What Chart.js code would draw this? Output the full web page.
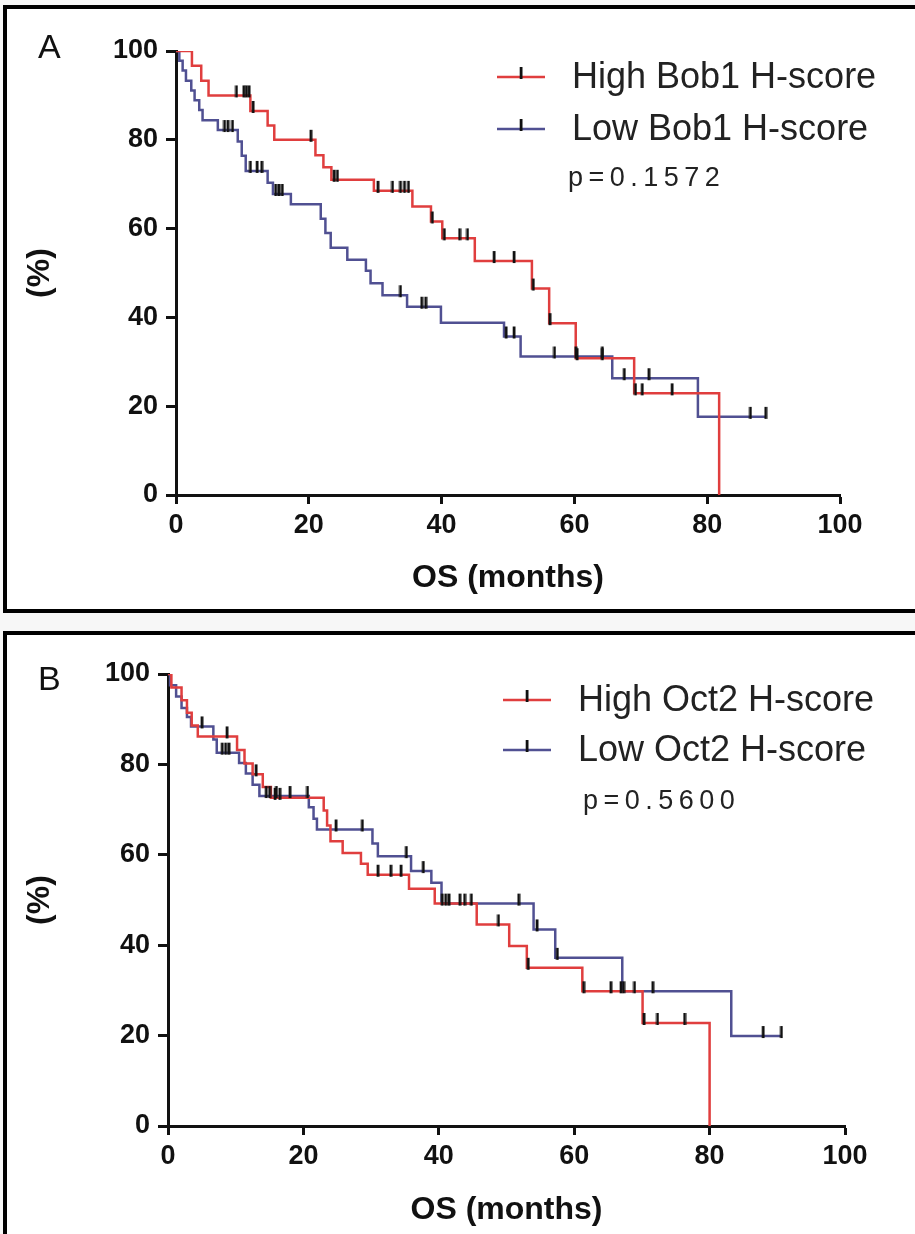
<!DOCTYPE html>
<html>
<head>
<meta charset="utf-8">
<title>Overall survival by Bob1 and Oct2 H-score</title>
<script src="https://cdn.jsdelivr.net/npm/chart.js@4/dist/chart.umd.min.js"></script>
<style>
  html, body { margin: 0; padding: 0; background: #f7f7f7; }
  #page { position: relative; width: 915px; height: 1234px; overflow: hidden; background: #f7f7f7; }
  .panel-bg { position: absolute; background: #fff; }
  .frame { position: absolute; border: 4.5px solid #000; box-sizing: border-box; pointer-events: none; }
  canvas { position: absolute; left: 0; }
</style>
</head>
<body>
<div id="page">
  <div class="panel-bg" style="left:3px;top:5px;width:960px;height:608px;"></div>
  <div class="panel-bg" style="left:3px;top:631px;width:960px;height:700px;"></div>
  <canvas id="panelA" width="915" height="612" style="top:0px"></canvas>
  <canvas id="panelB" width="915" height="614" style="top:620px"></canvas>
  <div class="frame" style="left:3px;top:5px;width:960px;height:608px;"></div>
  <div class="frame" style="left:3px;top:631px;width:960px;height:700px;"></div>
</div>
<script>
// ---- Panel A: Bob1 H-score (months, survival %) ----
const highBobTimes = [0, 2.4, 3.8, 4.9, 11.2, 13.8, 14.8, 21.0, 22.2, 23.4, 29.8, 35.6, 38.4, 40.1, 45.0, 53.6, 56.2, 60.2, 69.0, 81.8];
const highBobSurv  = [100, 96.7, 93.3, 90.0, 86.5, 83.2, 80.0, 76.5, 73.8, 71.0, 68.5, 65.0, 61.6, 57.8, 52.7, 46.5, 38.7, 30.8, 22.9, 0];
const highBobCensored = [9.1, 10.2, 10.6, 11.0, 11.6, 20.3, 23.8, 24.3, 30.4, 32.6, 33.8, 34.4, 35.0, 38.6, 40.4, 42.7, 43.9, 47.9, 50.9, 53.8, 56.3, 60.4, 64.2, 69.2, 70.2, 74.7];

const lowBobTimes = [0, 0.5, 1.0, 1.5, 2.3, 2.8, 3.5, 4.0, 6.3, 9.3, 9.9, 10.5, 13.8, 14.6, 17.3, 21.8, 22.5, 23.3, 25.8, 28.6, 29.3, 31.1, 34.8, 39.9, 49.4, 51.9, 65.7, 78.6, 88.8];
const lowBobSurv  = [100, 97.8, 95.6, 93.3, 91.1, 88.9, 86.7, 84.4, 82.2, 79.6, 76.4, 73.0, 70.3, 67.8, 65.5, 62.2, 59.0, 55.7, 53.0, 50.5, 47.7, 45.0, 42.4, 38.8, 35.7, 31.2, 26.3, 17.6, 17.6];
const lowBobCensored = [7.3, 7.8, 8.5, 11.2, 12.2, 12.9, 15.0, 15.5, 16.0, 33.8, 37.0, 37.6, 49.7, 50.9, 57.0, 60.2, 64.2, 67.5, 71.2, 86.5, 88.8];

// ---- Panel B: Oct2 H-score ----
const highOctTimes = [0, 0.5, 2.0, 2.8, 3.5, 4.4, 10.2, 11.3, 12.5, 14.0, 15.2, 23.0, 23.5, 24.0, 25.8, 28.5, 29.5, 35.6, 39.4, 45.6, 50.4, 53.0, 61.2, 70.1, 80.0];
const highOctSurv  = [100, 97.0, 94.2, 91.4, 88.6, 86.2, 83.2, 80.2, 77.8, 75.0, 72.6, 69.8, 66.5, 63.0, 60.4, 58.0, 55.6, 52.5, 49.2, 44.6, 39.8, 35.0, 29.8, 22.8, 0];
const highOctCensored = [8.7, 13.0, 15.8, 16.5, 31.0, 32.9, 34.4, 40.5, 43.1, 43.8, 44.8, 48.8, 53.2, 61.4, 65.4, 66.9, 70.3, 72.3, 76.3];

const lowOctTimes = [0, 0.3, 1.2, 2.0, 2.8, 3.4, 6.7, 7.2, 10.5, 11.5, 12.5, 13.5, 20.8, 21.5, 22.0, 30.2, 31.0, 35.9, 38.9, 40.4, 54.0, 57.2, 67.1, 83.2, 90.6];
const lowOctSurv  = [100, 97.5, 95.0, 92.5, 90.5, 88.4, 85.5, 82.6, 80.3, 78.0, 75.5, 73.0, 70.5, 68.0, 65.6, 62.5, 59.7, 56.4, 53.8, 49.2, 43.5, 37.2, 29.8, 19.9, 19.9];
const lowOctCensored = [5.0, 8.0, 8.5, 9.0, 14.5, 15.0, 16.0, 18.0, 20.6, 24.8, 28.7, 35.2, 37.7, 41.0, 41.5, 51.8, 54.5, 57.5, 67.3, 68.9, 71.6, 87.9, 90.6];

// ---- Axis ticks and labels ----
const xTickValues = [0, 20, 40, 60, 80, 100];
const yTickValues = [0, 20, 40, 60, 80, 100];
const xAxisTitle = 'OS (months)';
const yAxisTitle = '(%)';
const legendA = ['High Bob1 H-score', 'Low Bob1 H-score'];
const legendB = ['High Oct2 H-score', 'Low Oct2 H-score'];
const pValueA = 'p=0.1572';
const pValueB = 'p=0.5600';

const RED = 'rgb(224,62,62)';
const BLUE = 'rgb(80,80,146)';
const FONT = "'Liberation Sans', Arial, Helvetica, sans-serif";

// Small vertical bar used as the censoring mark (sits mostly above the line)
const censorMark = (() => {
  const c = document.createElement('canvas');
  c.width = 4; c.height = 22;
  const g = c.getContext('2d');
  g.fillStyle = '#111';
  g.fillRect(0.7, 1, 2.8, 12);
  return c;
})();

function stepPoints(times, surv) {
  return times.map((t, i) => ({ x: t, y: surv[i] }));
}

// Survival level of a step curve at time t
function levelAt(times, surv, t) {
  let v = surv[0];
  for (let i = 0; i < times.length; i++) {
    if (times[i] <= t) v = surv[i];
  }
  return v;
}

function censorPoints(times, surv, cens) {
  return cens.map(t => ({ x: t, y: levelAt(times, surv, t) }));
}

function makePanel(id, opts) {
  const annotate = {
    id: 'kmAnnotations',
    afterDraw(chart) {
      const ctx = chart.ctx;
      ctx.save();
      // panel letter
      ctx.fillStyle = '#111';
      ctx.font = '34px ' + FONT;
      ctx.textBaseline = 'middle';
      ctx.textAlign = 'left';
      ctx.fillText(opts.letter, opts.letterPos[0], opts.letterPos[1]);
      // legend rows
      const colors = [RED, BLUE];
      opts.legend.forEach((txt, i) => {
        const y = opts.legendY[i];
        ctx.strokeStyle = colors[i];
        ctx.lineWidth = 2.5;
        ctx.beginPath();
        ctx.moveTo(opts.legendX, y);
        ctx.lineTo(opts.legendX + 48, y);
        ctx.stroke();
        ctx.drawImage(censorMark, opts.legendX + 22, y - 11);
        ctx.fillStyle = '#222';
        ctx.font = '36px ' + FONT;
        ctx.textBaseline = 'middle';
        ctx.fillText(txt, opts.legendX + 75, y + 1);
      });
      // p-value
      ctx.font = '27px ' + FONT;
      ctx.fillStyle = '#222';
      if ('letterSpacing' in ctx) ctx.letterSpacing = '5.5px';
      ctx.fillText(opts.pValue, opts.pPos[0], opts.pPos[1]);
      ctx.restore();
    }
  };

  return new Chart(document.getElementById(id), {
    type: 'line',
    data: {
      datasets: [
        { label: opts.legend[0], data: stepPoints(opts.high[0], opts.high[1]), stepped: 'before',
          borderColor: RED, borderWidth: 2.5, pointRadius: 0, fill: false, order: 1 },
        { label: opts.legend[1], data: stepPoints(opts.low[0], opts.low[1]), stepped: 'before',
          borderColor: BLUE, borderWidth: 2.5, pointRadius: 0, fill: false, order: 2 },
        { label: 'censored high', data: censorPoints(opts.high[0], opts.high[1], opts.high[2]), showLine: false,
          pointStyle: censorMark, pointRadius: 5, order: 0 },
        { label: 'censored low', data: censorPoints(opts.low[0], opts.low[1], opts.low[2]), showLine: false,
          pointStyle: censorMark, pointRadius: 5, order: 0 }
      ]
    },
    options: {
      responsive: false,
      animation: false,
      devicePixelRatio: 1,
      layout: { padding: opts.padding },
      plugins: { legend: { display: false }, tooltip: { enabled: false } },
      scales: {
        x: {
          type: 'linear', min: 0, max: 100,
          afterBuildTicks: s => { s.ticks = xTickValues.map(v => ({ value: v })); },
          afterFit: s => { s.height = opts.xHeight; },
          ticks: { color: '#111', font: { family: FONT, size: 27, weight: 'bold' }, padding: 5 },
          grid: { drawOnChartArea: false, drawTicks: true, tickLength: 9, tickWidth: 3, color: '#111' },
          border: { display: true, color: '#111', width: 3 },
          title: { display: true, text: xAxisTitle, color: '#111',
                   font: { family: FONT, size: 32, weight: 'bold' }, padding: { top: 0, bottom: 3 } }
        },
        y: {
          type: 'linear', min: 0, max: 100,
          afterBuildTicks: s => { s.ticks = yTickValues.map(v => ({ value: v })); },
          afterFit: s => { s.width = opts.yWidth; },
          ticks: { color: '#111', font: { family: FONT, size: 27, weight: 'bold' }, padding: 8 },
          grid: { drawOnChartArea: false, drawTicks: true, tickLength: 10, tickWidth: 3, color: '#111' },
          border: { display: true, color: '#111', width: 3 },
          title: { display: true, text: yAxisTitle, color: '#111',
                   font: { family: FONT, size: 32, weight: 'bold' }, padding: { top: 9, bottom: 0 } }
        }
      }
    },
    plugins: [annotate]
  });
}

makePanel('panelA', {
  high: [highBobTimes, highBobSurv, highBobCensored],
  low: [lowBobTimes, lowBobSurv, lowBobCensored],
  legend: legendA, pValue: pValueA,
  letter: 'A', letterPos: [38, 49],
  legendX: 497, legendY: [77, 129], pPos: [568, 179],
  padding: { left: 12, right: 75, top: 51, bottom: 12 },
  yWidth: 164, xHeight: 105
});

makePanel('panelB', {
  high: [highOctTimes, highOctSurv, highOctCensored],
  low: [lowOctTimes, lowOctSurv, lowOctCensored],
  legend: legendB, pValue: pValueB,
  letter: 'B', letterPos: [38, 61],
  legendX: 503, legendY: [80, 130], pPos: [583, 182],
  padding: { left: 12, right: 70, top: 54, bottom: 2 },
  yWidth: 156, xHeight: 106
});
</script>
</body>
</html>
